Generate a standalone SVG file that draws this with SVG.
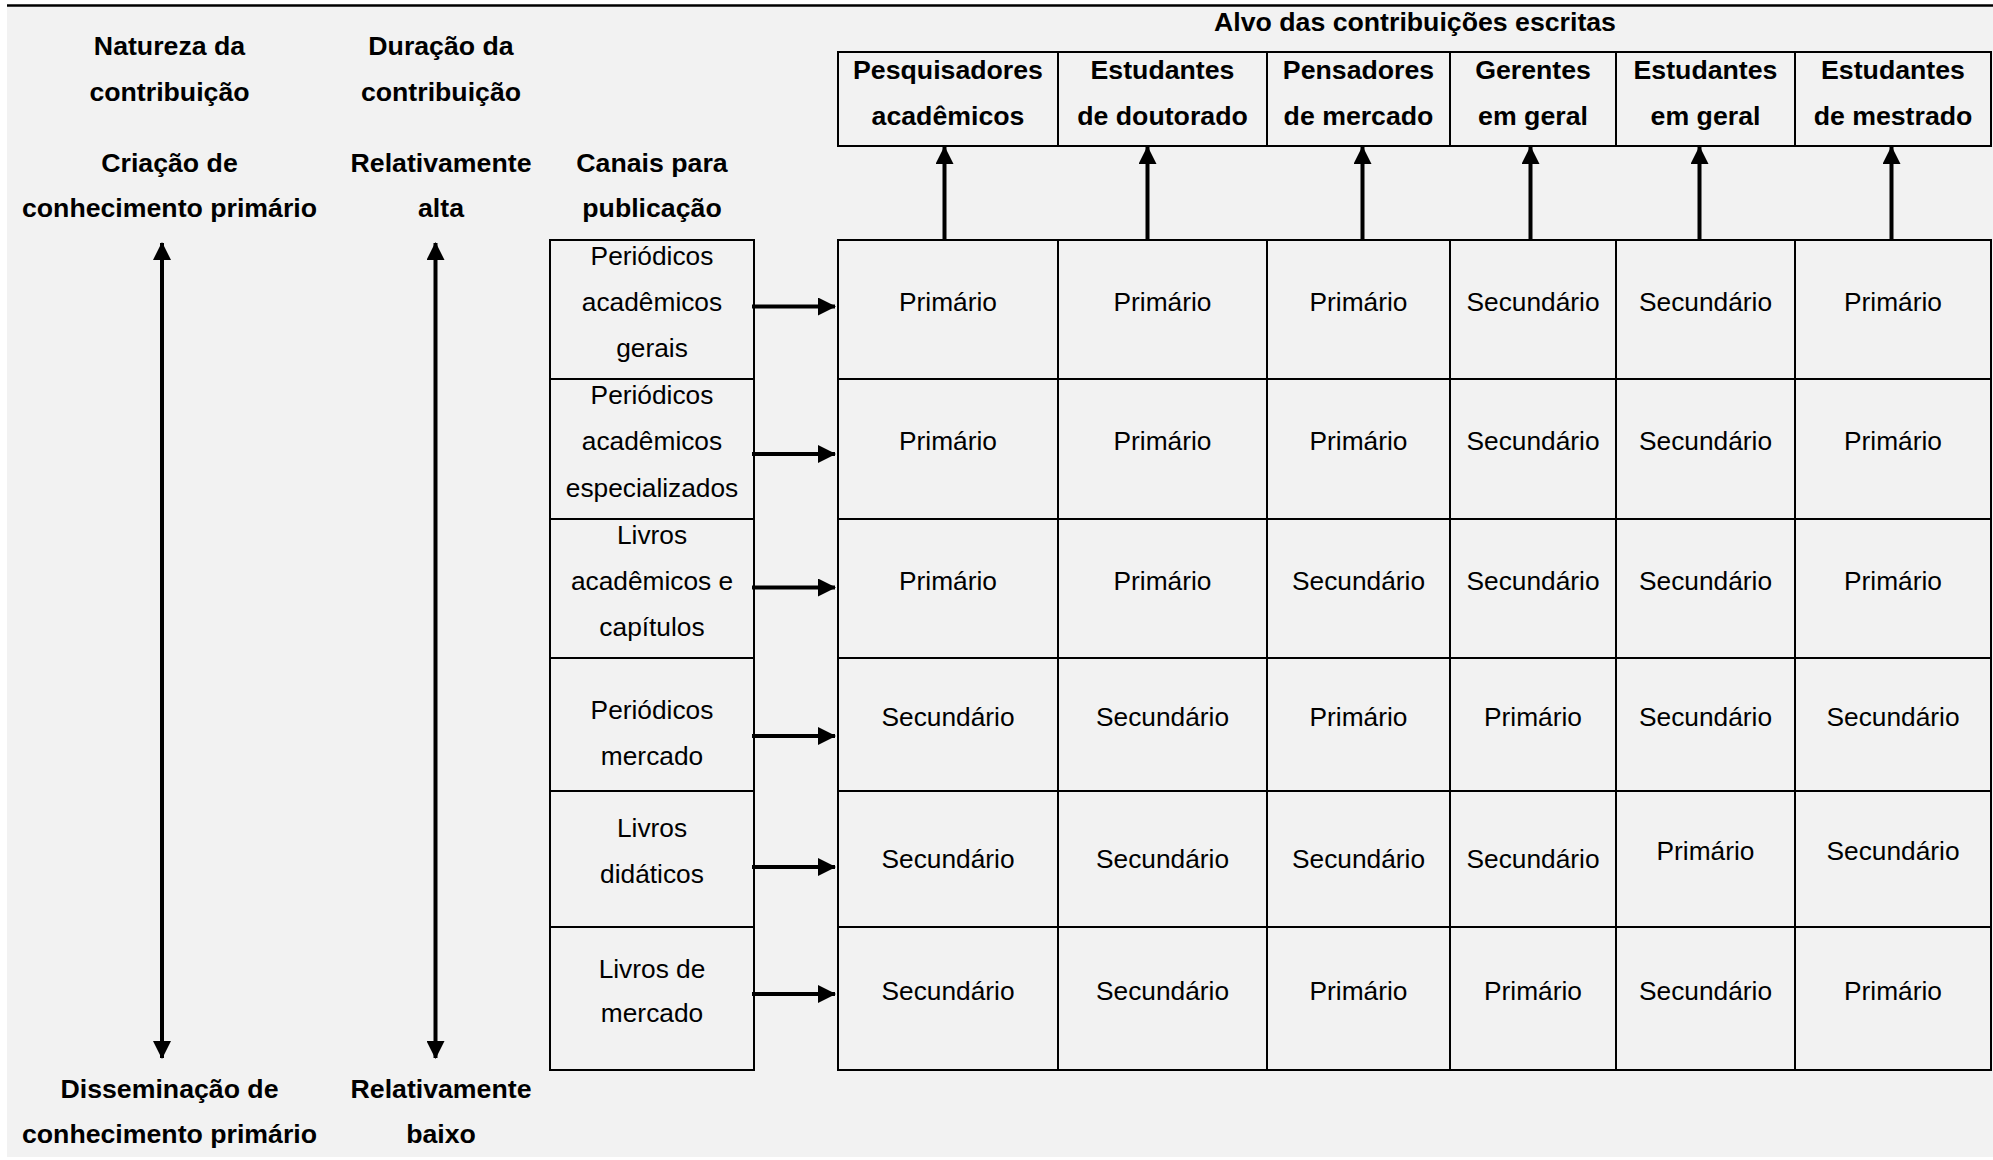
<svg xmlns="http://www.w3.org/2000/svg" width="1993" height="1160" viewBox="0 0 1993 1160">
  <style>
    .b { font-family: "Liberation Sans", Arial, sans-serif; font-weight: bold; font-size: 26.7px; fill: #000; text-anchor: middle; }
    .r { font-family: "Liberation Sans", Arial, sans-serif; font-size: 26.3px; fill: #000; text-anchor: middle; }
    .box { fill: none; stroke: #000; stroke-width: 2; }
    .arr { fill: none; stroke: #000; stroke-width: 4; }
  </style>
  <defs>
    <marker id="head" markerUnits="userSpaceOnUse" markerWidth="18" markerHeight="18" refX="17" refY="9" orient="auto-start-reverse" viewBox="0 0 18 18">
      <path d="M0,0 L18,9 L0,18 Z" fill="#000"/>
    </marker>
  </defs>

  <!-- page -->
  <rect x="0" y="0" width="1993" height="1160" fill="#ffffff"/>
  <rect x="7" y="6" width="1986" height="1151" fill="#f2f2f2"/>
  <line x1="7" y1="5.5" x2="1993" y2="5.5" stroke="#000" stroke-width="2.5"/>

  <!-- axis labels -->
  <g id="natureza">
    <text class="b" x="169.5" y="55">Natureza da</text>
    <text class="b" x="169.5" y="100.5">contribuição</text>
    <text class="b" x="169.5" y="171.5">Criação de</text>
    <text class="b" x="169.5" y="217">conhecimento primário</text>
    <text class="b" x="169.5" y="1098">Disseminação de</text>
    <text class="b" x="169.5" y="1143">conhecimento primário</text>
  </g>
  <g id="duracao">
    <text class="b" x="441" y="55">Duração da</text>
    <text class="b" x="441" y="100.5">contribuição</text>
    <text class="b" x="441" y="171.5">Relativamente</text>
    <text class="b" x="441" y="217">alta</text>
    <text class="b" x="441" y="1098">Relativamente</text>
    <text class="b" x="441" y="1143">baixo</text>
  </g>
  <g id="canais-titulo">
    <text class="b" x="652" y="171.5">Canais para</text>
    <text class="b" x="652" y="217">publicação</text>
  </g>
  <g id="alvo-titulo">
    <text class="b" x="1415" y="31">Alvo das contribuições escritas</text>
  </g>

  <!-- target audience header -->
  <g id="publicos">
    <rect class="box" x="838" y="52" width="1153" height="94"/>
    <line class="box" x1="1058" y1="52" x2="1058" y2="146"/>
    <line class="box" x1="1267" y1="52" x2="1267" y2="146"/>
    <line class="box" x1="1450" y1="52" x2="1450" y2="146"/>
    <line class="box" x1="1616" y1="52" x2="1616" y2="146"/>
    <line class="box" x1="1795" y1="52" x2="1795" y2="146"/>
    <text class="b" x="948" y="79">Pesquisadores</text>
    <text class="b" x="948" y="124.5">acadêmicos</text>
    <text class="b" x="1162.5" y="79">Estudantes</text>
    <text class="b" x="1162.5" y="124.5">de doutorado</text>
    <text class="b" x="1358.5" y="79">Pensadores</text>
    <text class="b" x="1358.5" y="124.5">de mercado</text>
    <text class="b" x="1533" y="79">Gerentes</text>
    <text class="b" x="1533" y="124.5">em geral</text>
    <text class="b" x="1705.5" y="79">Estudantes</text>
    <text class="b" x="1705.5" y="124.5">em geral</text>
    <text class="b" x="1893" y="79">Estudantes</text>
    <text class="b" x="1893" y="124.5">de mestrado</text>
  </g>

  <!-- publication channels -->
  <g id="canais">
    <rect class="box" x="550" y="240" width="204" height="830"/>
    <line class="box" x1="550" y1="379" x2="754" y2="379"/>
    <line class="box" x1="550" y1="519" x2="754" y2="519"/>
    <line class="box" x1="550" y1="658" x2="754" y2="658"/>
    <line class="box" x1="550" y1="791" x2="754" y2="791"/>
    <line class="box" x1="550" y1="927" x2="754" y2="927"/>
    <text class="r" x="652" y="265">Periódicos</text>
    <text class="r" x="652" y="311">acadêmicos</text>
    <text class="r" x="652" y="357">gerais</text>
    <text class="r" x="652" y="404">Periódicos</text>
    <text class="r" x="652" y="450">acadêmicos</text>
    <text class="r" x="652" y="496.5">especializados</text>
    <text class="r" x="652" y="544">Livros</text>
    <text class="r" x="652" y="590">acadêmicos e</text>
    <text class="r" x="652" y="636">capítulos</text>
    <text class="r" x="652" y="718.5">Periódicos</text>
    <text class="r" x="652" y="764.5">mercado</text>
    <text class="r" x="652" y="837">Livros</text>
    <text class="r" x="652" y="883">didáticos</text>
    <text class="r" x="652" y="977.5">Livros de</text>
    <text class="r" x="652" y="1022">mercado</text>
  </g>

  <!-- classification grid -->
  <g id="matriz">
    <rect class="box" x="838" y="240" width="1153" height="830"/>
    <line class="box" x1="1058" y1="240" x2="1058" y2="1070"/>
    <line class="box" x1="1267" y1="240" x2="1267" y2="1070"/>
    <line class="box" x1="1450" y1="240" x2="1450" y2="1070"/>
    <line class="box" x1="1616" y1="240" x2="1616" y2="1070"/>
    <line class="box" x1="1795" y1="240" x2="1795" y2="1070"/>
    <line class="box" x1="838" y1="379" x2="1991" y2="379"/>
    <line class="box" x1="838" y1="519" x2="1991" y2="519"/>
    <line class="box" x1="838" y1="658" x2="1991" y2="658"/>
    <line class="box" x1="838" y1="791" x2="1991" y2="791"/>
    <line class="box" x1="838" y1="927" x2="1991" y2="927"/>

    <text class="r" x="948" y="311">Primário</text>
    <text class="r" x="1162.5" y="311">Primário</text>
    <text class="r" x="1358.5" y="311">Primário</text>
    <text class="r" x="1533" y="311">Secundário</text>
    <text class="r" x="1705.5" y="311">Secundário</text>
    <text class="r" x="1893" y="311">Primário</text>

    <text class="r" x="948" y="450">Primário</text>
    <text class="r" x="1162.5" y="450">Primário</text>
    <text class="r" x="1358.5" y="450">Primário</text>
    <text class="r" x="1533" y="450">Secundário</text>
    <text class="r" x="1705.5" y="450">Secundário</text>
    <text class="r" x="1893" y="450">Primário</text>

    <text class="r" x="948" y="590">Primário</text>
    <text class="r" x="1162.5" y="590">Primário</text>
    <text class="r" x="1358.5" y="590">Secundário</text>
    <text class="r" x="1533" y="590">Secundário</text>
    <text class="r" x="1705.5" y="590">Secundário</text>
    <text class="r" x="1893" y="590">Primário</text>

    <text class="r" x="948" y="726">Secundário</text>
    <text class="r" x="1162.5" y="726">Secundário</text>
    <text class="r" x="1358.5" y="726">Primário</text>
    <text class="r" x="1533" y="726">Primário</text>
    <text class="r" x="1705.5" y="726">Secundário</text>
    <text class="r" x="1893" y="726">Secundário</text>

    <text class="r" x="948" y="868">Secundário</text>
    <text class="r" x="1162.5" y="868">Secundário</text>
    <text class="r" x="1358.5" y="868">Secundário</text>
    <text class="r" x="1533" y="868">Secundário</text>
    <text class="r" x="1705.5" y="860">Primário</text>
    <text class="r" x="1893" y="860">Secundário</text>

    <text class="r" x="948" y="1000">Secundário</text>
    <text class="r" x="1162.5" y="1000">Secundário</text>
    <text class="r" x="1358.5" y="1000">Primário</text>
    <text class="r" x="1533" y="1000">Primário</text>
    <text class="r" x="1705.5" y="1000">Secundário</text>
    <text class="r" x="1893" y="1000">Primário</text>
  </g>

  <!-- connectors -->
  <g id="conectores">
    <!-- two-way scales -->
    <line class="arr" x1="162" y1="243" x2="162" y2="1058" marker-start="url(#head)" marker-end="url(#head)"/>
    <line class="arr" x1="435.5" y1="243" x2="435.5" y2="1058" marker-start="url(#head)" marker-end="url(#head)"/>
    <!-- channel to grid -->
    <line class="arr" x1="752" y1="306.5" x2="835" y2="306.5" marker-end="url(#head)"/>
    <line class="arr" x1="752" y1="454" x2="835" y2="454" marker-end="url(#head)"/>
    <line class="arr" x1="752" y1="587.5" x2="835" y2="587.5" marker-end="url(#head)"/>
    <line class="arr" x1="752" y1="736" x2="835" y2="736" marker-end="url(#head)"/>
    <line class="arr" x1="752" y1="867" x2="835" y2="867" marker-end="url(#head)"/>
    <line class="arr" x1="752" y1="994" x2="835" y2="994" marker-end="url(#head)"/>
    <!-- grid to audiences -->
    <line class="arr" x1="944.5" y1="240" x2="944.5" y2="147" marker-end="url(#head)"/>
    <line class="arr" x1="1147.5" y1="240" x2="1147.5" y2="147" marker-end="url(#head)"/>
    <line class="arr" x1="1362.5" y1="240" x2="1362.5" y2="147" marker-end="url(#head)"/>
    <line class="arr" x1="1530.5" y1="240" x2="1530.5" y2="147" marker-end="url(#head)"/>
    <line class="arr" x1="1699.5" y1="240" x2="1699.5" y2="147" marker-end="url(#head)"/>
    <line class="arr" x1="1891.5" y1="240" x2="1891.5" y2="147" marker-end="url(#head)"/>
  </g>
</svg>
